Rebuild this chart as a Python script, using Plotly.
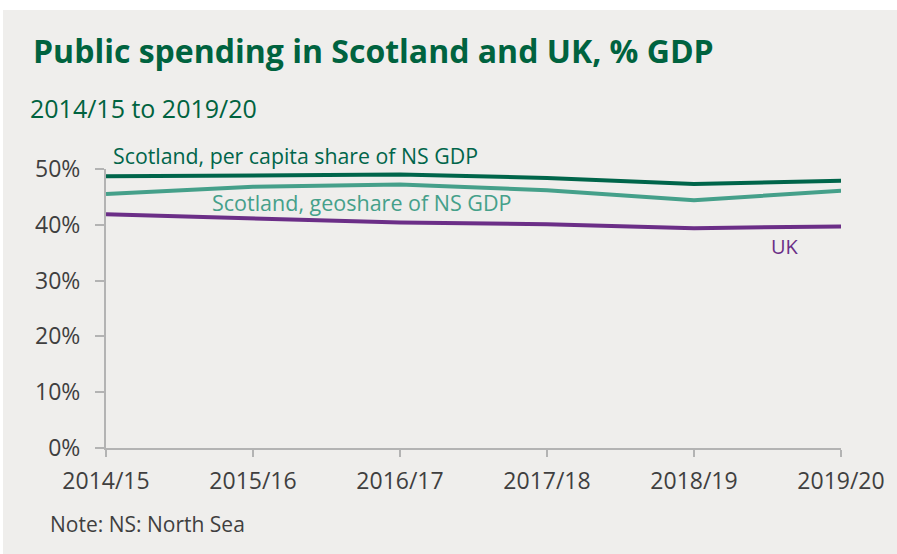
import plotly.graph_objects as go

# Fiscal years and public spending as % of GDP
years = ["2014/15", "2015/16", "2016/17", "2017/18", "2018/19", "2019/20"]
scot_per_capita = [48.7, 48.9, 49.0, 48.4, 47.3, 47.9]
scot_geoshare = [45.5, 46.8, 47.2, 46.2, 44.4, 46.1]
uk = [41.9, 41.1, 40.4, 40.1, 39.4, 39.7]

y_ticks = [0, 10, 20, 30, 40, 50]
y_tick_text = [f"{v}%" for v in y_ticks]

DARK_GREEN = "#00654A"
TEAL = "#45A08A"
PURPLE = "#6B2E87"
AXIS_GREY = "#B3B3B3"
TEXT_GREY = "#3F3F3F"
PANEL = "#EFEEEC"

W, H = 897, 554
L, R, T, B = 106, 56, 169, 106
pw, ph = W - L - R, H - T - B


def px_x(x):
    return (x - L) / pw


def px_y(y):
    return (H - B - y) / ph


fig = go.Figure()
for name, vals, col in [
    ("Scotland, per capita share of NS GDP", scot_per_capita, DARK_GREEN),
    ("Scotland, geoshare of NS GDP", scot_geoshare, TEAL),
    ("UK", uk, PURPLE),
]:
    fig.add_trace(go.Scatter(
        x=years, y=vals, mode="lines", name=name,
        line=dict(color=col, width=4), hoverinfo="skip",
    ))

fig.add_shape(type="rect", xref="paper", yref="paper",
              x0=px_x(3), x1=px_x(W + 2), y0=px_y(H + 2), y1=px_y(10),
              fillcolor=PANEL, line=dict(width=0), layer="below")

ann = []
ann.append(dict(text="<b>Public spending in Scotland and UK, % GDP</b>",
                x=px_x(31), y=px_y(50), xanchor="left", yanchor="middle",
                font=dict(family="Open Sans", size=32, color="#00633F")))
ann.append(dict(text="2014/15 to 2019/20",
                x=px_x(28), y=px_y(108), xanchor="left", yanchor="middle",
                font=dict(family="Open Sans", size=25, color="#00633F")))
ann.append(dict(text="Note: NS: North Sea",
                x=px_x(48), y=px_y(524), xanchor="left", yanchor="middle",
                font=dict(family="Open Sans", size=21, color=TEXT_GREY)))
ann.append(dict(text="Scotland, per capita share of NS GDP",
                x=px_x(111), y=px_y(155), xanchor="left", yanchor="middle",
                font=dict(family="Open Sans", size=21.3, color=DARK_GREEN)))
ann.append(dict(text="Scotland, geoshare of NS GDP",
                x=px_x(210), y=px_y(202), xanchor="left", yanchor="middle",
                font=dict(family="Open Sans", size=21.5, color=TEAL)))
ann.append(dict(text="UK",
                x=px_x(769), y=px_y(246), xanchor="left", yanchor="middle",
                font=dict(family="Open Sans", size=20, color=PURPLE)))
for a in ann:
    a.update(xref="paper", yref="paper", showarrow=False)

fig.update_layout(
    width=W, height=H, autosize=False,
    margin=dict(l=L, r=R, t=T, b=B, pad=0),
    paper_bgcolor="white", plot_bgcolor="rgba(0,0,0,0)",
    showlegend=False, annotations=ann,
    xaxis=dict(
        type="category", range=[0, 5], showgrid=False, zeroline=False,
        showline=True, linecolor=AXIS_GREY, linewidth=2,
        ticks="outside", ticklen=7, tickwidth=2, tickcolor=AXIS_GREY,
        tickfont=dict(family="Open Sans", size=23, color=TEXT_GREY),
        ticklabelstandoff=4,
    ),
    yaxis=dict(
        range=[0, 50], tickvals=y_ticks, ticktext=y_tick_text,
        showgrid=False, zeroline=False,
        showline=True, linecolor=AXIS_GREY, linewidth=2,
        ticks="outside", ticklen=9, tickwidth=2, tickcolor=AXIS_GREY,
        tickfont=dict(family="Open Sans", size=23, color=TEXT_GREY),
        ticklabelstandoff=10,
    ),
)

fig.write_html("out.html")
